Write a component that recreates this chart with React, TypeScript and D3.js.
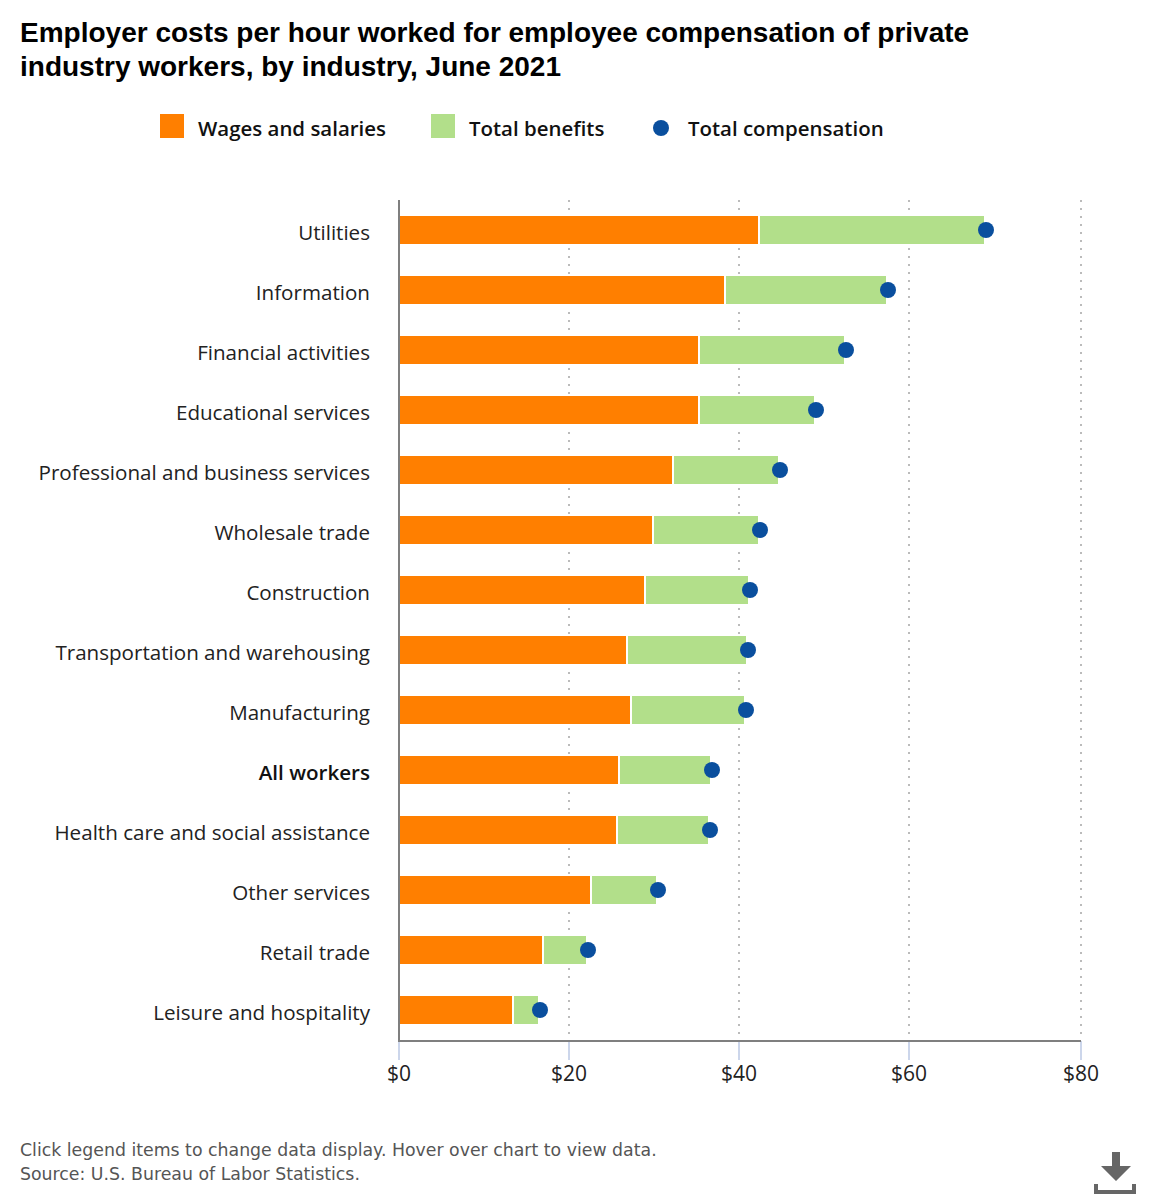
import React, { useEffect, useRef } from 'react';
import * as d3 from 'd3';

const categories = [
  'Utilities', 'Information', 'Financial activities', 'Educational services',
  'Professional and business services', 'Wholesale trade', 'Construction',
  'Transportation and warehousing', 'Manufacturing', 'All workers',
  'Health care and social assistance', 'Other services', 'Retail trade',
  'Leisure and hospitality',
];
const wages = [42.35, 38.35, 35.29, 35.29, 32.24, 29.88, 28.94, 26.82, 27.29, 25.88, 25.65, 22.59, 16.94, 13.41];
const benefits = [26.49, 19.06, 17.18, 13.65, 12.47, 12.47, 12.24, 14.12, 13.41, 10.82, 10.82, 7.76, 5.18, 3.06];
const totals = [68.95, 57.53, 52.59, 49.06, 44.82, 42.47, 41.29, 41.06, 40.82, 36.82, 36.59, 30.47, 22.24, 16.59];
const xTicks = [0, 20, 40, 60, 80];
const titleLines = [
  'Employer costs per hour worked for employee compensation of private',
  'industry workers, by industry, June 2021',
];
const footerLines = [
  'Click legend items to change data display. Hover over chart to view data.',
  'Source: U.S. Bureau of Labor Statistics.',
];

const ORANGE = '#ff7f00';
const GREEN = '#b2df8a';
const BLUE = '#0a4f9e';
const LABEL_FONT = '"Open Sans", sans-serif';

const App: React.FC = () => {
  const svgRef = useRef<SVGSVGElement>(null);

  useEffect(() => {
    if (!svgRef.current) return;
    const svg = d3.select(svgRef.current);
    svg.selectAll('*').remove();

    const top = 200;
    const bottom = 1041;

    const x = d3.scaleLinear().domain(xTicks).range([399, 569, 739, 909, 1081]);
    const y = d3.scaleBand<string>()
      .domain(categories)
      .range([top, 1040])
      .paddingInner(0.5)
      .paddingOuter(0.25);
    const px = (v: number) => Math.round(x(v));

    // Title
    svg.append('g')
      .selectAll('text')
      .data(titleLines)
      .enter()
      .append('text')
      .attr('x', 20)
      .attr('y', (_, i) => 42 + i * 34)
      .style('font-family', '"Liberation Sans", Arial, sans-serif')
      .style('font-weight', 700)
      .style('font-size', '28px')
      .style('fill', '#000')
      .text(d => d);

    // Legend
    const legend = svg.append('g');
    legend.append('rect').attr('x', 160).attr('y', 114).attr('width', 24).attr('height', 24).attr('fill', ORANGE);
    legend.append('rect').attr('x', 431).attr('y', 114).attr('width', 24).attr('height', 24).attr('fill', GREEN);
    legend.append('circle').attr('cx', 661).attr('cy', 128).attr('r', 8).attr('fill', BLUE);
    const legendLabels: [string, number][] = [
      ['Wages and salaries', 198],
      ['Total benefits', 469],
      ['Total compensation', 688],
    ];
    legend.selectAll('text')
      .data(legendLabels)
      .enter()
      .append('text')
      .attr('x', d => d[1])
      .attr('y', 136)
      .style('font-family', LABEL_FONT)
      .style('font-weight', 600)
      .style('font-size', '20.45px')
      .style('fill', '#111')
      .text(d => d[0]);

    // Dotted grid lines
    svg.append('g')
      .selectAll('line')
      .data(xTicks.slice(1))
      .enter()
      .append('line')
      .attr('x1', d => px(d))
      .attr('x2', d => px(d))
      .attr('y1', top)
      .attr('y2', bottom - 1)
      .attr('stroke', '#bbbbbb')
      .attr('stroke-width', 2)
      .attr('stroke-dasharray', '2,6');

    // Stacked bars
    const bars = svg.append('g');
    bars.selectAll('.wage')
      .data(categories)
      .enter()
      .append('rect')
      .attr('class', 'wage')
      .attr('x', px(0))
      .attr('y', d => y(d) ?? 0)
      .attr('width', (_, i) => px(wages[i]) - px(0))
      .attr('height', y.bandwidth())
      .attr('fill', ORANGE)
      .attr('stroke', '#fff')
      .attr('stroke-width', 2);
    bars.selectAll('.benefit')
      .data(categories)
      .enter()
      .append('rect')
      .attr('class', 'benefit')
      .attr('x', (_, i) => px(wages[i]))
      .attr('y', d => y(d) ?? 0)
      .attr('width', (_, i) => px(wages[i] + benefits[i]) - px(wages[i]))
      .attr('height', y.bandwidth())
      .attr('fill', GREEN)
      .attr('stroke', '#fff')
      .attr('stroke-width', 2);

    // Bottom axis
    const axis = svg.append('g')
      .attr('transform', `translate(0,${bottom})`)
      .call(
        d3.axisBottom(x)
          .tickValues(xTicks)
          .tickFormat(d => `$${d}`)
          .tickSize(19)
          .tickPadding(6)
          .offset(0)
      );
    axis.select('.domain').remove();
    axis.selectAll('line')
      .attr('stroke', '#ccd6eb')
      .attr('stroke-width', 2);
    axis.selectAll('text')
      .style('font-family', LABEL_FONT)
      .style('font-size', '21px')
      .style('fill', '#222');

    // Axis lines
    svg.append('line')
      .attr('x1', px(0)).attr('x2', px(0))
      .attr('y1', top).attr('y2', bottom + 1)
      .attr('stroke', '#7f7f7f').attr('stroke-width', 2);
    svg.append('line')
      .attr('x1', px(0)).attr('x2', px(80))
      .attr('y1', bottom).attr('y2', bottom)
      .attr('stroke', '#7f7f7f').attr('stroke-width', 2);

    // Category labels
    svg.append('g')
      .selectAll('text')
      .data(categories)
      .enter()
      .append('text')
      .attr('x', 370)
      .attr('y', d => (y(d) ?? 0) + y.bandwidth() / 2 + 10)
      .attr('text-anchor', 'end')
      .style('font-family', LABEL_FONT)
      .style('font-size', '20.6px')
      .style('font-weight', d => d === 'All workers' ? 600 : 400)
      .style('fill', d => d === 'All workers' ? '#111' : '#222')
      .text(d => d);

    // Total compensation dots
    svg.append('g')
      .selectAll('circle')
      .data(categories)
      .enter()
      .append('circle')
      .attr('cx', (_, i) => px(totals[i]))
      .attr('cy', d => (y(d) ?? 0) + y.bandwidth() / 2)
      .attr('r', 8)
      .attr('fill', BLUE);

    // Footer
    svg.append('g')
      .selectAll('text')
      .data(footerLines)
      .enter()
      .append('text')
      .attr('x', 20)
      .attr('y', (_, i) => 1155.5 + i * 24)
      .style('font-family', '"DejaVu Sans", Verdana, sans-serif')
      .style('font-size', '17.33px')
      .style('fill', '#555')
      .text(d => d);

    // Download icon
    svg.append('path')
      .attr('d', 'M1112 1152h8v14h11l-15 15-15-15h11zM1094 1184h4v6h34v-6h4v10h-42z')
      .attr('fill', '#666');
  }, []);

  return (
    <svg
      ref={svgRef}
      width={1160}
      height={1200}
      style={{ position: 'absolute', left: 0, top: 0, display: 'block', background: '#fff' }}
    />
  );
};

export default App;
